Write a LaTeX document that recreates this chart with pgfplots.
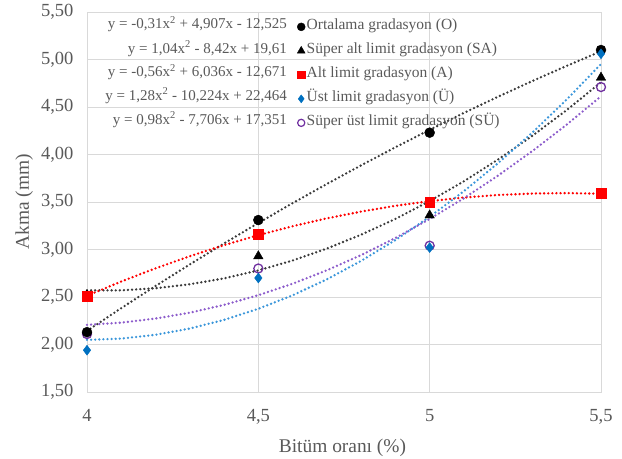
\documentclass[border=0pt]{standalone}
\usepackage{fontspec}
\setmainfont{Liberation Serif}
\usepackage{pgfplots}
\pgfplotsset{compat=1.18}
\usepackage{pgfplotstable}

\definecolor{txt}{HTML}{595959}
\definecolor{gridc}{HTML}{D9D9D9}
\definecolor{cblue}{HTML}{0070C0}
\definecolor{cbluel}{HTML}{3A96DA}
\definecolor{cpurp}{HTML}{7030A0}
\definecolor{cpurpl}{HTML}{8C5CCB}
\definecolor{cred}{HTML}{FF0000}
\definecolor{cdark}{HTML}{3A3A3A}

% measured points: x  O  SA  A  U  SU
\pgfplotstableread{
x    O     SA    A     U     SU
4.0  2.13  2.52  2.51  1.94  2.11
4.5  3.31  2.93  3.16  2.70  2.80
5.0  4.23  3.36  3.50  3.02  3.04
5.5  5.10  4.81  3.59  5.06  4.71
}\measured

% second-order trend lines, tabulated every 0.1
\pgfplotstableread{
x    O      SA     A      U      SU
4.0  2.143  2.570  2.513  2.048  2.207
4.1  2.383  2.570  2.663  2.062  2.230
4.2  2.616  2.592  2.802  2.102  2.273
4.3  2.843  2.634  2.929  2.168  2.335
4.4  3.064  2.696  3.046  2.259  2.417
4.5  3.279  2.780  3.151  2.376  2.519
4.6  3.488  2.884  3.245  2.518  2.640
4.7  3.690  3.010  3.328  2.686  2.781
4.8  3.886  3.156  3.399  2.880  2.941
4.9  4.076  3.322  3.460  3.099  3.121
5.0  4.260  3.510  3.509  3.344  3.321
5.1  4.438  3.718  3.547  3.614  3.540
5.2  4.609  3.948  3.574  3.910  3.779
5.3  4.774  4.198  3.589  4.232  4.037
5.4  4.933  4.468  3.594  4.579  4.315
5.5  5.086  4.760  3.587  4.952  4.613
}\trend

\begin{document}
\begin{tikzpicture}
\useasboundingbox (0,0) rectangle (622bp,459bp);
\begin{axis}[
  at={(87bp,67bp)}, anchor=south west,
  scale only axis, width=514bp, height=380bp,
  xmin=4, xmax=5.5, ymin=1.5, ymax=5.5,
  xtick={4,4.5,5,5.5}, xticklabels={4,{4,5},5,{5,5}},
  ytick={1.5,2,...,5.5},
  yticklabel style={/pgf/number format/fixed, /pgf/number format/fixed zerofill,
    /pgf/number format/precision=2, /pgf/number format/use comma, xshift=-10bp},
  /pgf/number format/assume math mode=true,
  grid=major, major grid style={draw=gridc, line width=0.9bp},
  axis line style={draw=gridc, line width=0.9bp},
  tick style={draw=none},
  ticklabel style={font=\fontsize{18.5bp}{20bp}\selectfont, text=txt},
  xticklabel style={yshift=-14bp},
  xlabel={Bitüm oranı (\%)}, ylabel={Akma (mm)},
  label style={font=\fontsize{19.4bp}{21bp}\selectfont, text=txt},
  xlabel style={at={(axis description cs:0.497,-0.158)}, anchor=base},
  ylabel style={at={(axis description cs:-0.113,0.5)}, anchor=base},
  clip=false,
  legend style={draw=none, fill=none, at={(0.4086,0.993)}, anchor=north west,
    inner sep=0pt, row sep=0pt,
    font=\fontsize{15.5bp}{17bp}\selectfont, text=txt,
    nodes={inner ysep=0pt, inner xsep=1.5bp, text height=15bp, text depth=9bp}},
  legend cell align=left,
  legend image code/.code={\draw[mark repeat=2,mark phase=2,#1] plot coordinates {(0bp,0bp)(5bp,0bp)(10bp,0bp)};},
  trend/.style={no marks, line width=2.6bp, line cap=round, dash pattern=on 0bp off 4.1bp, forget plot},
]
% trend lines
\addplot[trend, cdark] table[x=x, y=O] {\trend};
\addplot[trend, cdark] table[x=x, y=SA] {\trend};
\addplot[trend, cred] table[x=x, y=A] {\trend};
\addplot[trend, cbluel] table[x=x, y=U] {\trend};
\addplot[trend, cpurpl] table[x=x, y=SU] {\trend};

% measured points
\addplot[only marks, forget plot, mark=o, mark size=4.5bp, draw=cpurp, fill=white, line width=1.3bp] table[x=x, y=SU] {\measured};
\addplot[only marks, forget plot, mark=*, mark size=5bp, draw=black, fill=black] table[x=x, y=O] {\measured};
\addplot[only marks, forget plot, mark=triangle*, mark size=5.5bp, draw=black, fill=black] table[x=x, y=SA] {\measured};
\addplot[only marks, forget plot, mark=square*, mark size=4.8bp, draw=cred, fill=cred] table[x=x, y=A] {\measured};
\addplot[only marks, forget plot, mark=diamond*, mark size=5bp, draw=cblue, fill=cblue] table[x=x, y=U] {\measured};

% legend
\addlegendimage{only marks, mark=*, mark size=4bp, draw=black, fill=black}
\addlegendentry{Ortalama gradasyon (O)}
\addlegendimage{only marks, mark=triangle*, mark size=4.5bp, draw=black, fill=black}
\addlegendentry{Süper alt limit gradasyon (SA)}
\addlegendimage{only marks, mark=square*, mark size=3.8bp, draw=cred, fill=cred}
\addlegendentry{Alt limit gradasyon (A)}
\addlegendimage{only marks, mark=diamond*, mark size=4bp, draw=cblue, fill=cblue}
\addlegendentry{Üst limit gradasyon (Ü)}
\addlegendimage{only marks, mark=o, mark size=3.6bp, draw=cpurp, fill=white, line width=1.2bp}
\addlegendentry{Süper üst limit gradasyon (SÜ)}

% trend line equations
\begin{scope}[every node/.style={anchor=mid east, text=txt, font=\fontsize{15bp}{17bp}\selectfont, inner sep=0pt}]
\node at (rel axis cs:0.389,0.962) {y = -0,31x\textsuperscript{2} + 4,907x - 12,525};
\node at (rel axis cs:0.389,0.898) {y = 1,04x\textsuperscript{2} - 8,42x + 19,61};
\node at (rel axis cs:0.389,0.835) {y = -0,56x\textsuperscript{2} + 6,036x - 12,671};
\node at (rel axis cs:0.389,0.774) {y = 1,28x\textsuperscript{2} - 10,224x + 22,464};
\node at (rel axis cs:0.389,0.711) {y = 0,98x\textsuperscript{2} - 7,706x + 17,351};
\end{scope}
\end{axis}
\end{tikzpicture}
\end{document}
